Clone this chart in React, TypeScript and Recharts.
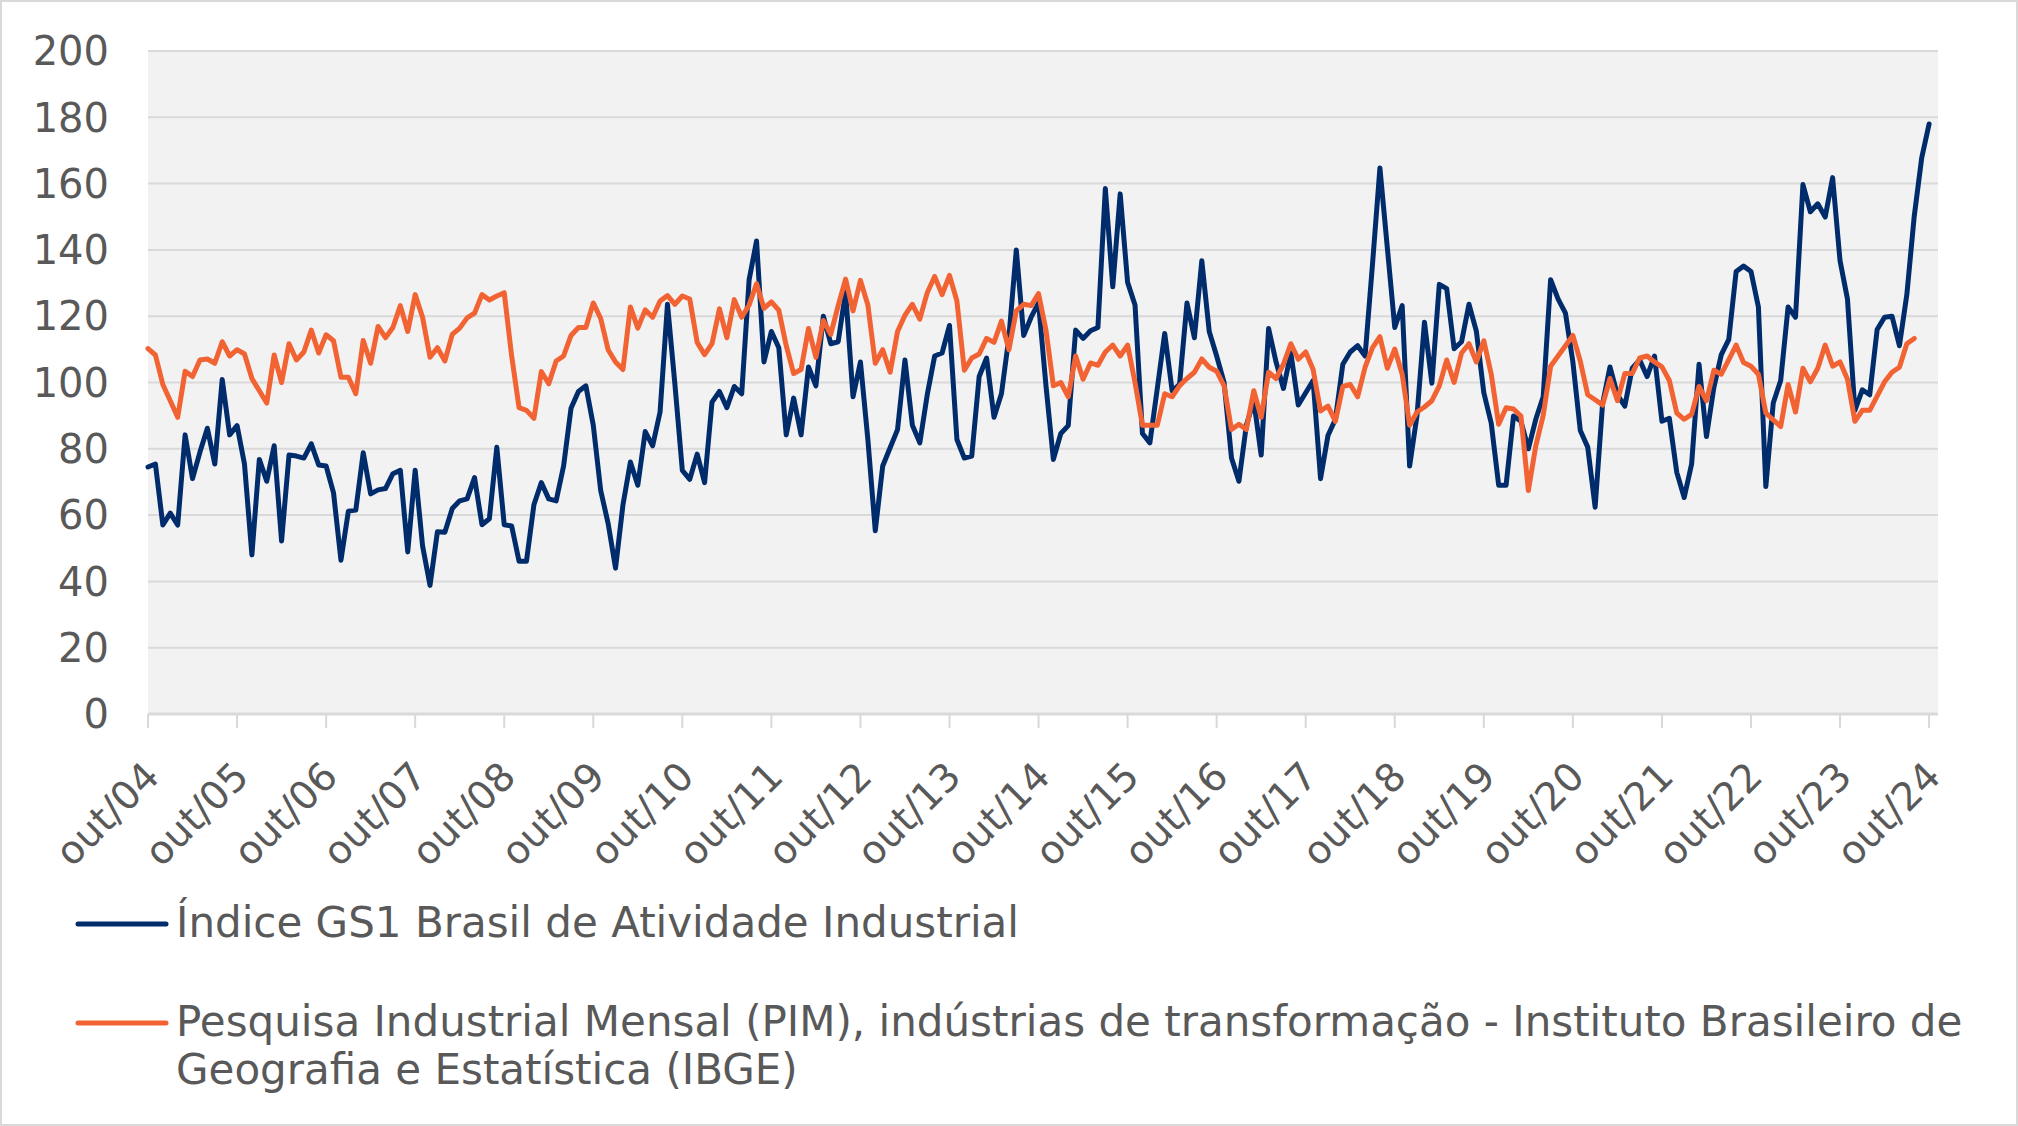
import { CartesianGrid, Line, LineChart, XAxis, YAxis } from 'recharts';

// Índice GS1 Brasil de Atividade Industrial, monthly out/04 .. out/24
const gs1Index = [
  74.5, 75.4, 57, 60.6, 57, 84.2, 71, 79, 86.2, 75.4, 100.9, 84.2, 87, 75.4, 48, 76.8, 70.2, 80.9, 52.2, 78.1, 77.8, 77.2, 81.5, 75.1, 74.8, 66.7,
  46.4, 61.2, 61.5, 78.8, 66.4, 67.6, 68, 72.5, 73.5, 48.9, 73.5, 50.7, 38.8, 55, 54.8, 62, 64.3, 64.9, 71.3, 57.1, 58.9, 80.5, 57.1, 56.7,
  46.1, 46.1, 63.1, 69.8, 64.9, 64.3, 74.8, 92.2, 97.3, 99, 87.1, 67.4, 57.5, 44, 63.1, 76, 69, 85.2, 80.9, 91.1, 123.6, 99.5, 73.5, 70.8,
  78.4, 69.8, 94.1, 97.3, 92.4, 98.8, 96.6, 131, 142.7, 106.2, 115.4, 110.5, 84.2, 95.3, 84.2, 104.7, 99, 120, 111.7, 112.3, 127.3, 95.7, 106.2, 82.8,
  55.3, 74.8, 80.3, 85.8, 106.8, 87.1, 81.8, 96.3, 108, 108.9, 117.2, 82.8, 77.2, 77.8, 101.8, 107.4, 89.5, 96.6, 113.5, 140, 114.2, 119.7, 124, 99,
  76.8, 84.6, 87, 115.8, 113.3, 115.6, 116.6, 158.5, 128.9, 156.9, 130.2, 123.4, 84.6, 81.8, 98.2, 114.8, 97.5, 99.4, 124, 113.5, 136.7, 115.4, 108, 100,
  77.2, 70.2, 87.1, 94.5, 78.1, 116.3, 106.2, 98.2, 108.9, 93.2, 96.9, 100.6, 71, 84, 88.9, 105.5, 109.2, 111.1, 108, 135.7, 164.7, 140.6, 116.6, 123.2,
  74.8, 90.1, 118.2, 99.8, 129.6, 128.3, 110.2, 112.3, 123.6, 115.4, 96.9, 87.7, 69, 69, 89.9, 88.3, 80, 88.9, 95.7, 131, 125.2, 120.9, 106.2, 85.5,
  80.5, 62.4, 93.6, 104.7, 96.3, 92.9, 104.3, 106.8, 101.8, 108, 88.3, 89.2, 72.9, 65.3, 75.4, 105.5, 83.7, 98.5, 108.4, 112.9, 133.5, 135.1, 133.5, 122.8,
  68.6, 93.8, 100.6, 122.8, 119.7, 159.7, 151.5, 153.9, 149.9, 161.8, 136.7, 125.2, 91.6, 97.8, 96.3, 116, 119.7, 120, 111.1, 126.5, 150.2, 167.7, 178,
];

// PIM indústrias de transformação (IBGE), same months, ends two months earlier
const pimIndex = [
  110.2, 108.3, 99.4, 94.5, 89.5, 103.4, 101.8, 106.8, 107.1, 105.8, 112.3, 108, 109.9, 108.6, 101.2, 97.5, 93.8, 108.3, 100, 111.7, 106.8, 109.2, 115.8, 108.9, 114.4, 112.6,
  101.6, 101.6, 96.6, 112.7, 105.8, 116.9, 113.5, 116.6, 123.2, 115.4, 126.5, 119.7, 107.6, 110.5, 106.5, 114.5, 116.4, 119.5, 120.9, 126.5, 124.9, 126.1, 127.1, 108,
  92.4, 91.6, 89.2, 103.3, 99.6, 106.5, 108, 114.2, 116.6, 116.6, 124, 119.3, 109.9, 106.2, 103.9, 122.8, 116.4, 121.9, 119.7, 124.6, 126.2, 123.6, 126.1, 125.2,
  112.1, 108.4, 111.7, 122.2, 113.5, 125, 119.7, 123.4, 129.8, 122.4, 124.3, 121.8, 111.1, 102.7, 103.9, 116.3, 107.6, 118.7, 114.5, 123.2, 131.2, 121.6, 130.8, 123.4,
  105.8, 109.9, 103.1, 115.4, 120.3, 123.6, 119.1, 127.1, 132, 126.5, 132.3, 124.6, 103.7, 107.4, 108.6, 113.3, 112.1, 118.5, 109.9, 121.6, 123.6, 123.2, 126.8, 115.8,
  99, 100, 95.7, 108, 101, 105.9, 105.2, 109.2, 111.3, 108, 111.3, 100, 87.1, 87.1, 87.1, 96.6, 95.7, 99, 101.2, 103.1, 107.1, 104.6, 103.4, 99,
  85.8, 87.4, 85.8, 97.5, 89.5, 103.1, 101.2, 105.5, 111.7, 107, 109.2, 103.9, 91.4, 92.9, 88.3, 98.8, 99.4, 95.7, 104.6, 110.5, 113.8, 104.3, 110.1, 102.5,
  87.1, 91.1, 92.6, 94.5, 99, 106.8, 100, 108.9, 111.7, 106.2, 112.6, 102.5, 87.4, 92.4, 92, 89.9, 67.4, 80.9, 90.1, 104.9, 108, 111.1, 114.2, 106.4,
  96.3, 94.8, 93.2, 101.2, 94.5, 102.7, 102.7, 107.4, 108, 106.2, 104.7, 100.6, 90.8, 88.9, 90.4, 98.8, 94.5, 103.7, 102.5, 106.8, 111.3, 106, 104.9, 102.5,
  90.8, 88.7, 86.7, 99.4, 91.1, 104.3, 100.2, 104.3, 111.3, 104.9, 106.2, 101, 88.3, 91.6, 91.6, 95.9, 100.2, 103.1, 104.6, 111.7, 113.3,
];

const xTickLabels = [
  'out/04', 'out/05', 'out/06', 'out/07', 'out/08', 'out/09', 'out/10', 'out/11', 'out/12', 'out/13', 'out/14',
  'out/15', 'out/16', 'out/17', 'out/18', 'out/19', 'out/20', 'out/21', 'out/22', 'out/23', 'out/24',
];
const yTicks = [0, 20, 40, 60, 80, 100, 120, 140, 160, 180, 200];

const gs1Label = 'Índice GS1 Brasil de Atividade Industrial';
const pimLabelLine1 = 'Pesquisa Industrial Mensal (PIM), indústrias de transformação - Instituto Brasileiro de';
const pimLabelLine2 = 'Geografia e Estatística (IBGE)';

const BLUE = '#002c6c';
const ORANGE = '#f26334';
const TEXT = '#595959';
const FONT = '"DejaVu Sans", Verdana, sans-serif';

const data = gs1Index.map((v, i) => ({ i, gs1: v, pim: i < pimIndex.length ? pimIndex[i] : null }));
const xTicks = xTickLabels.map((_, k) => k * 12);

function MonthTick(props: any) {
  const { x, y, payload } = props;
  const label = xTickLabels[Math.round(payload.value / 12)];
  return (
    <g transform={`translate(${x + 4},${y + 39})`}>
      <text textAnchor="end" dy="0.35em" transform="rotate(-45)" fill={TEXT} fontSize={39} fontFamily={FONT}>
        {label}
      </text>
    </g>
  );
}

export default function App() {
  return (
    <div style={{ position: 'absolute', left: 0, top: 0, width: 2018, height: 1126, background: '#fff', fontFamily: FONT }}>
      <LineChart width={2018} height={1126} data={data} margin={{ top: 51, right: 80, bottom: 292, left: 0 }}>
        <CartesianGrid horizontal vertical={false} stroke="#d9d9d9" strokeWidth={2} fill="#f2f2f2" fillOpacity={1} />
        <XAxis
          dataKey="i"
          type="number"
          domain={[0, 241.2]}
          ticks={xTicks}
          interval={0}
          height={120}
          tick={<MonthTick />}
          tickSize={14}
          tickLine={{ stroke: '#d9d9d9', strokeWidth: 2 }}
          axisLine={{ stroke: '#d9d9d9', strokeWidth: 3 }}
        />
        <YAxis
          type="number"
          domain={[0, 200]}
          ticks={yTicks}
          interval={0}
          width={148}
          tickSize={0}
          tickMargin={39}
          axisLine={false}
          tickLine={false}
          tick={{ fill: TEXT, fontSize: 40, fontFamily: FONT }}
        />
        <Line
          dataKey="gs1"
          stroke={BLUE}
          strokeWidth={5}
          dot={false}
          strokeLinejoin="round"
          strokeLinecap="round"
          isAnimationActive={false}
        />
        <Line
          dataKey="pim"
          stroke={ORANGE}
          strokeWidth={5}
          dot={false}
          strokeLinejoin="round"
          strokeLinecap="round"
          isAnimationActive={false}
        />
      </LineChart>

      {/* legend */}
      <div style={{ position: 'absolute', left: 0, top: 0, width: 2018, height: 1126, pointerEvents: 'none' }}>
        <svg width={2018} height={1126} style={{ position: 'absolute', left: 0, top: 0 }}>
          <line x1={78} x2={166} y1={924} y2={924} stroke={BLUE} strokeWidth={5} strokeLinecap="round" />
          <line x1={78} x2={166} y1={1023} y2={1023} stroke={ORANGE} strokeWidth={5} strokeLinecap="round" />
        </svg>
        <div style={{ position: 'absolute', left: 176, top: 899, fontSize: 42, lineHeight: '48px', color: TEXT, whiteSpace: 'nowrap' }}>
          {gs1Label}
        </div>
        <div style={{ position: 'absolute', left: 176, top: 998, fontSize: 42, lineHeight: '48px', color: TEXT, whiteSpace: 'nowrap' }}>
          {pimLabelLine1}
          <br />
          {pimLabelLine2}
        </div>
        <div style={{ position: 'absolute', left: 0, top: 0, width: 2018, height: 1126, boxSizing: 'border-box', border: '2px solid #d9d9d9' }} />
      </div>
    </div>
  );
}
